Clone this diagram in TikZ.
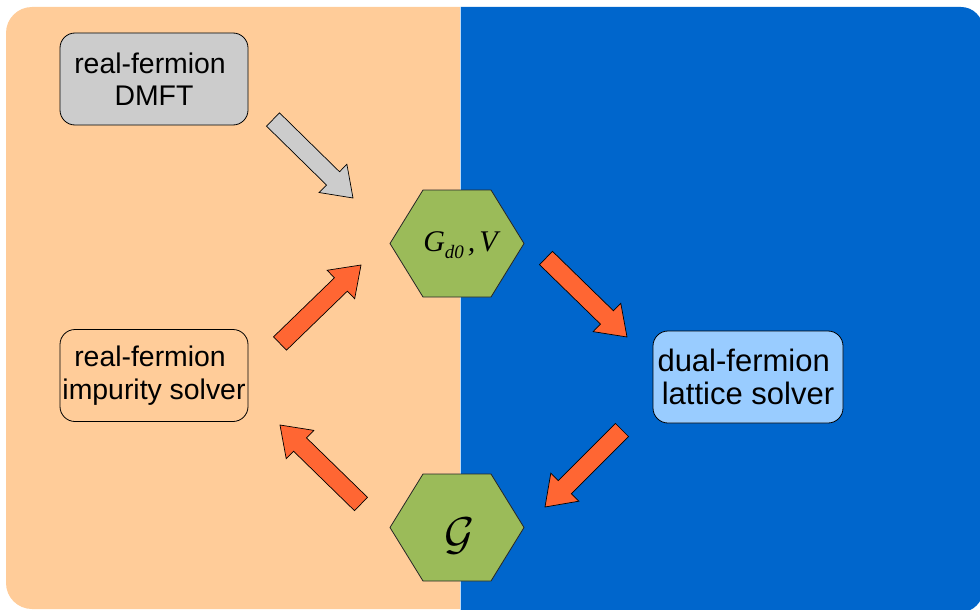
\documentclass[tikz,border=0pt]{standalone}
\usepackage{fontspec}
\setmainfont{Liberation Sans}
\newfontfamily\hexserif{Liberation Serif}
\usetikzlibrary{calc}

\definecolor{peach}{RGB}{255,204,153}
\definecolor{dualblue}{RGB}{0,102,204}
\definecolor{boxgray}{RGB}{204,204,204}
\definecolor{boxblue}{RGB}{153,204,255}
\definecolor{hexgreen}{RGB}{155,187,89}
\definecolor{flowred}{RGB}{255,102,51}

% block arrow: #1 style, #2 tail centre, #3 tip
\newcommand\bashaft{9.3pt}
\newcommand\bahead{19.8pt}
\newcommand\baheadlen{28pt}
\newcommand\blockarrow[3]{%
  \coordinate (ba-h) at ($(#3)!\baheadlen!(#2)$);
  \draw[#1] ($(#2)!\bashaft!90:(#3)$) -- ($(ba-h)!\bashaft!-90:(#2)$)
    -- ($(ba-h)!\bahead!-90:(#2)$) -- (#3) -- ($(ba-h)!\bahead!90:(#2)$)
    -- ($(ba-h)!\bashaft!90:(#2)$) -- ($(#2)!\bashaft!-90:(#3)$) -- cycle;
}

\begin{document}
\begin{tikzpicture}[x=1pt,y=-1pt,
  box/.style={draw=black, line width=0.8pt, rounded corners=15pt,
    minimum width=188pt, minimum height=92pt, align=center, inner sep=0pt,
    font=\fontsize{28.4}{32.5}\selectfont},
  hexfill/.style={fill=hexgreen, draw=black!85, line width=0.8pt},
  hexa/.pic={\path[hexfill] (-67,0) -- (-34,-53.5) -- (34,-53.5) -- (67,0)
    -- (34,53.5) -- (-34,53.5) -- cycle;},
  grayarrow/.style={fill=boxgray, draw=black, line width=0.7pt, line join=miter},
  redarrow/.style={fill=flowred, draw=black, line width=0.7pt, line join=miter}]
\useasboundingbox (0,0) rectangle (980,610);

% two background panels
\begin{scope}
  \clip (0,0) rectangle (980,610);
  \fill[peach] (460.5,7) -- (32,7) arc[start angle=90, end angle=180, radius=26pt]
    -- (6,583) arc[start angle=180, end angle=270, radius=26pt] -- (460.5,609) -- cycle;
  \fill[dualblue] (460.5,7) -- (961,7) arc[start angle=90, end angle=0, radius=22pt]
    -- (983,590) arc[start angle=0, end angle=-90, radius=22pt] -- (460.5,612) -- cycle;
  \draw[white!75!dualblue, line width=1pt] (460.5,7) -- (460.5,610);
\end{scope}

% solver boxes
\node[box, fill=boxgray] (dmft) at (154,79) {real-fermion\kern.28em\\DMFT};
\node[box, fill=peach] (imp) at (154,375.5) {real-fermion\kern.28em\\impurity solver};
\node[box, fill=boxblue, minimum width=190pt, font=\fontsize{31}{33}\selectfont]
  (dual) at (748,377) {dual-fermion\kern.28em\\lattice solver};

% hexagons
\pic (tophex) at (457,243.5) {hexa};
\node[anchor=base, inner sep=0pt] (gd) at (460.5,251)
  {\hexserif\itshape\fontsize{30}{30}\selectfont G\raisebox{-7pt}{\fontsize{19}{19}\selectfont d0}\kern4pt,\kern4pt V};
\pic (bothex) at (457,527.5) {hexa};
\node[anchor=base, inner sep=0pt] (calG) at (459.5,549)
  {\scalebox{4.6}{$\mathcal{G}$}};

% flow arrows
\coordinate (dmft-out) at (273,119.5);  \coordinate (gd-in1) at (353,198);
\coordinate (gd-out)   at (546,258);    \coordinate (dual-in) at (627,337);
\coordinate (dual-out) at (622,430);    \coordinate (calG-in) at (545,507);
\coordinate (calG-out) at (361,504);    \coordinate (imp-in)  at (280,425);
\coordinate (imp-out)  at (280,343.5);  \coordinate (gd-in2)  at (361,265);
\blockarrow{grayarrow}{dmft-out}{gd-in1}
\blockarrow{redarrow}{gd-out}{dual-in}
\blockarrow{redarrow}{dual-out}{calG-in}
\blockarrow{redarrow}{calG-out}{imp-in}
\blockarrow{redarrow}{imp-out}{gd-in2}
\end{tikzpicture}
\end{document}
